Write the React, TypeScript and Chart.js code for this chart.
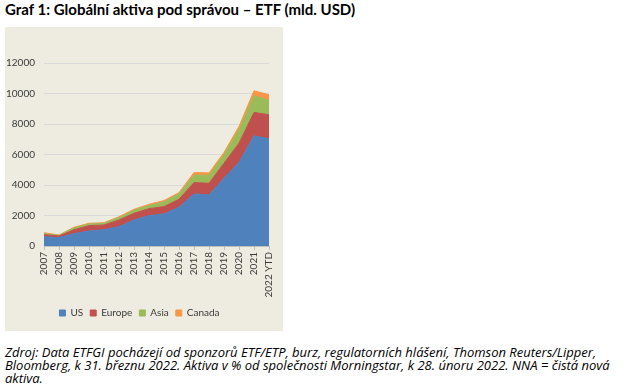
import React, { useEffect, useRef } from "react";
import { Chart, registerables } from "chart.js";

Chart.register(...registerables);

const categories = ["2007", "2008", "2009", "2010", "2011", "2012", "2013", "2014", "2015", "2016", "2017", "2018", "2019", "2020", "2021", "2022 YTD"];
const usValues = [610, 545, 810, 985, 1070, 1270, 1710, 1990, 2100, 2540, 3415, 3350, 4445, 5475, 7225, 7030];
const europeValues = [135, 110, 260, 350, 310, 440, 435, 460, 485, 525, 745, 765, 985, 1270, 1535, 1575];
const asiaValues = [65, 45, 110, 110, 110, 150, 195, 200, 305, 350, 480, 525, 550, 875, 1095, 940];
const canadaValues = [65, 20, 50, 45, 40, 65, 70, 85, 90, 85, 175, 155, 150, 220, 325, 375];
const yTicks = [0, 2000, 4000, 6000, 8000, 10000, 12000];

const seriesNames = ["US", "Europe", "Asia", "Canada"];
const seriesColors = ["#4F81BD", "#C0504D", "#9BBB59", "#F79646"];

const titleText = "Graf 1: Globální aktiva pod správou – ETF (mld. USD)";
const footerLines = [
  "Zdroj: Data ETFGI pocházejí od sponzorů ETF/ETP, burz, regulatorních hlášení, Thomson Reuters/Lipper,",
  "Bloomberg, k 31. březnu 2022. Aktiva v % od společnosti Morningstar, k 28. únoru 2022. NNA = čistá nová",
  "aktiva.",
];

const FONT = "Lato, 'Liberation Sans', sans-serif";

export default function App() {
  const canvasRef = useRef<HTMLCanvasElement | null>(null);

  useEffect(() => {
    const canvas = canvasRef.current;
    if (!canvas) return;
    const allValues = [usValues, europeValues, asiaValues, canadaValues];
    const chart = new Chart(canvas, {
      type: "line",
      data: {
        labels: categories,
        datasets: seriesNames.map((name, i) => ({
          label: name,
          data: allValues[i],
          backgroundColor: seriesColors[i],
          borderColor: seriesColors[i],
          borderWidth: 1,
          pointRadius: 0,
          pointHoverRadius: 0,
          tension: 0,
          fill: i === 0 ? "origin" : "-1",
        })),
      },
      options: {
        responsive: false,
        animation: false,
        events: [],
        layout: { padding: { top: 36, right: 9, bottom: 3, left: 0 } },
        plugins: {
          legend: {
            position: "bottom",
            labels: {
              boxWidth: 6,
              boxHeight: 6,
              padding: 7,
              color: "#3a3a3a",
              font: { family: FONT, size: 10 },
            },
          },
          tooltip: { enabled: false },
        },
        scales: {
          x: {
            offset: false,
            grid: {
              display: true,
              drawOnChartArea: false,
              drawTicks: true,
              tickLength: 4,
              color: "#BFBFBF",
            },
            border: { display: true, color: "#BFBFBF" },
            ticks: {
              autoSkip: false,
              minRotation: 90,
              maxRotation: 90,
              padding: 2,
              color: "#3a3a3a",
              font: { family: FONT, size: 10 },
            },
            afterFit: (scale: any) => {
              scale.height = 55;
            },
          },
          y: {
            stacked: true,
            min: 0,
            max: 12000,
            afterBuildTicks: (scale: any) => {
              scale.ticks = yTicks.map((v) => ({ value: v }));
            },
            grid: { color: "#D9D9D9", drawTicks: false },
            border: { display: false },
            ticks: {
              padding: 9,
              color: "#3a3a3a",
              font: { family: FONT, size: 10 },
              callback: (value: any) => String(value),
            },
            afterFit: (scale: any) => {
              scale.width = 39;
            },
          },
        },
      },
    });
    return () => chart.destroy();
  }, []);

  return (
    <div style={{ position: "fixed", left: 0, top: 0, width: 633, height: 392, background: "#fff", overflow: "hidden" }}>
      <div
        style={{
          position: "absolute",
          left: 5,
          top: 0,
          fontFamily: FONT,
          fontWeight: 700,
          fontSize: 15,
          lineHeight: "18px",
          color: "#000",
          whiteSpace: "nowrap",
        }}
      >
        {titleText}
      </div>
      <div style={{ position: "absolute", left: 5, top: 27, width: 278, height: 304, background: "#EEECE1" }}>
        <canvas ref={canvasRef} width={278} height={304} style={{ display: "block", width: 278, height: 304 }} />
      </div>
      <div
        style={{
          position: "absolute",
          left: 5,
          top: 346,
          fontFamily: "'Open Sans', sans-serif",
          fontStyle: "italic",
          fontSize: 13,
          lineHeight: "12.8px",
          color: "#000",
          whiteSpace: "nowrap",
        }}
      >
        {footerLines.map((l, i) => (
          <div key={i}>{l}</div>
        ))}
      </div>
    </div>
  );
}
